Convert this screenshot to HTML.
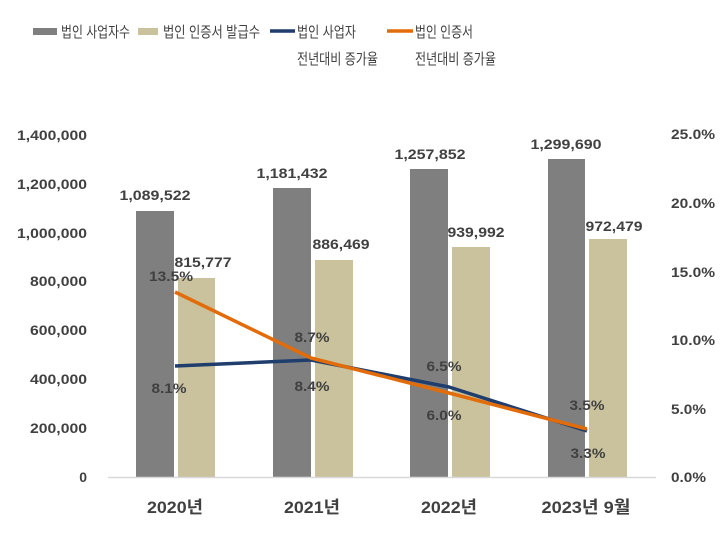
<!DOCTYPE html>
<html><head><meta charset="utf-8"><style>body{margin:0;background:#fff}svg{display:block}text{font-family:"Liberation Sans","Noto Sans CJK KR",sans-serif;fill:#404040}</style></head><body>
<svg width="726" height="533" viewBox="0 0 726 533">
<rect x="33" y="28" width="24" height="7" fill="#7f7f7f"/>
<text x="61" y="37" font-size="15" textLength="69" lengthAdjust="spacingAndGlyphs">법인 사업자수</text>
<rect x="138" y="28" width="20" height="7" fill="#c9c29c"/>
<text x="163" y="37" font-size="15" textLength="97" lengthAdjust="spacingAndGlyphs">법인 인증서 발급수</text>
<line x1="270" y1="31" x2="295" y2="31" stroke="#1f3d6d" stroke-width="3.5"/>
<text x="297" y="37" font-size="15" textLength="59" lengthAdjust="spacingAndGlyphs">법인 사업자</text>
<text x="297" y="64" font-size="15" textLength="81" lengthAdjust="spacingAndGlyphs">전년대비 증가율</text>
<line x1="387" y1="31" x2="413" y2="31" stroke="#e36c0a" stroke-width="3.5"/>
<text x="415" y="37" font-size="15" textLength="58" lengthAdjust="spacingAndGlyphs">법인 인증서</text>
<text x="415" y="64" font-size="15" textLength="81" lengthAdjust="spacingAndGlyphs">전년대비 증가율</text>
<g font-size="14" font-weight="bold" text-anchor="end">
<text x="87" y="482">0</text><text x="87" y="433" textLength="57" lengthAdjust="spacingAndGlyphs">200,000</text><text x="87" y="384" textLength="57" lengthAdjust="spacingAndGlyphs">400,000</text><text x="87" y="335" textLength="57" lengthAdjust="spacingAndGlyphs">600,000</text><text x="87" y="286" textLength="57" lengthAdjust="spacingAndGlyphs">800,000</text><text x="87" y="238" textLength="70" lengthAdjust="spacingAndGlyphs">1,000,000</text><text x="87" y="189" textLength="70" lengthAdjust="spacingAndGlyphs">1,200,000</text><text x="87" y="140" textLength="70" lengthAdjust="spacingAndGlyphs">1,400,000</text>
</g>
<g font-size="14" font-weight="bold">
<text x="671" y="482" textLength="35" lengthAdjust="spacingAndGlyphs">0.0%</text><text x="671" y="414" textLength="35" lengthAdjust="spacingAndGlyphs">5.0%</text><text x="671" y="345" textLength="44" lengthAdjust="spacingAndGlyphs">10.0%</text><text x="671" y="277" textLength="44" lengthAdjust="spacingAndGlyphs">15.0%</text><text x="671" y="208" textLength="44" lengthAdjust="spacingAndGlyphs">20.0%</text><text x="671" y="139" textLength="44" lengthAdjust="spacingAndGlyphs">25.0%</text>
</g>
<g fill="#7f7f7f">
<rect x="136" y="211" width="38" height="266"/><rect x="273" y="188" width="38" height="289"/><rect x="410" y="169" width="38" height="308"/><rect x="548" y="159" width="37" height="318"/>
</g>
<g fill="#c9c29c">
<rect x="178" y="278" width="37" height="199"/><rect x="315" y="260" width="38" height="217"/><rect x="452" y="247" width="38" height="230"/><rect x="589" y="239" width="38" height="238"/>
</g>
<line x1="108" y1="477.5" x2="656" y2="477.5" stroke="#d9d9d9" stroke-width="1.5"/>
<g font-size="14" font-weight="bold" text-anchor="middle">
<text x="155" y="200" textLength="71" lengthAdjust="spacingAndGlyphs">1,089,522</text><text x="292" y="178" textLength="71" lengthAdjust="spacingAndGlyphs">1,181,432</text><text x="430" y="159" textLength="71" lengthAdjust="spacingAndGlyphs">1,257,852</text><text x="566" y="149" textLength="71" lengthAdjust="spacingAndGlyphs">1,299,690</text>
<text x="203" y="267" textLength="57" lengthAdjust="spacingAndGlyphs">815,777</text><text x="341" y="249" textLength="57" lengthAdjust="spacingAndGlyphs">886,469</text><text x="476" y="237" textLength="57" lengthAdjust="spacingAndGlyphs">939,992</text><text x="614" y="231" textLength="57" lengthAdjust="spacingAndGlyphs">972,479</text>
<text x="171" y="281" textLength="44" lengthAdjust="spacingAndGlyphs">13.5%</text><text x="312" y="342" textLength="35" lengthAdjust="spacingAndGlyphs">8.7%</text><text x="444" y="371" textLength="35" lengthAdjust="spacingAndGlyphs">6.5%</text><text x="587" y="410" textLength="35" lengthAdjust="spacingAndGlyphs">3.5%</text>
<text x="169" y="393" textLength="35" lengthAdjust="spacingAndGlyphs">8.1%</text><text x="312" y="391" textLength="35" lengthAdjust="spacingAndGlyphs">8.4%</text><text x="444" y="420" textLength="35" lengthAdjust="spacingAndGlyphs">6.0%</text><text x="588" y="458" textLength="35" lengthAdjust="spacingAndGlyphs">3.3%</text>
</g>
<polyline points="175,366 311,360 449,387 587,431" fill="none" stroke="#1f3d6d" stroke-width="3.5" stroke-linejoin="round"/>
<polyline points="175,292 311,358 449,393 587,429" fill="none" stroke="#e36c0a" stroke-width="3.5" stroke-linejoin="round"/>
<g font-size="17" font-weight="bold" text-anchor="middle">
<text x="175" y="513" textLength="56" lengthAdjust="spacingAndGlyphs">2020년</text><text x="312" y="513" textLength="56" lengthAdjust="spacingAndGlyphs">2021년</text><text x="449" y="513" textLength="56" lengthAdjust="spacingAndGlyphs">2022년</text><text x="586" y="513" textLength="89" lengthAdjust="spacingAndGlyphs">2023년 9월</text>
</g>
</svg>
</body></html>
